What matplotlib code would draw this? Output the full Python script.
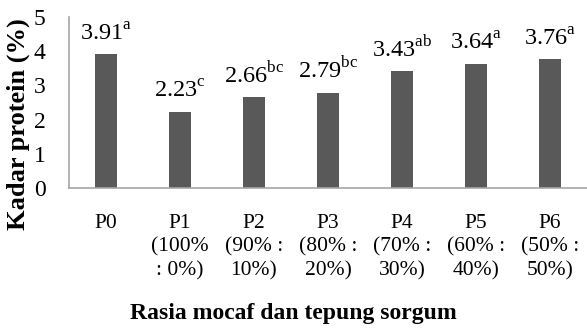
import numpy as np
from matplotlib import pyplot as plt

plt.rcParams['font.family'] = ['Liberation Serif', 'DejaVu Serif']
plt.rcParams['mathtext.fontset'] = 'custom'
plt.rcParams['mathtext.rm'] = 'Liberation Serif'

# data
perlakuan = ["P0", "P1\n(100%\n: 0%)", "P2\n(90% :\n10%)", "P3\n(80% :\n20%)",
             "P4\n(70% :\n30%)", "P5\n(60% :\n40%)", "P6\n(50% :\n50%)"]
protein = [3.91, 2.23, 2.66, 2.79, 3.43, 3.64, 3.76]
notasi = ["a", "c", "bc", "bc", "ab", "a", "a"]

fig = plt.figure(figsize=(5.87, 3.28), dpi=100)
ax = fig.add_axes([69/587, 1 - 188/328, 1 - 69/587, 171/328])

x = np.arange(len(protein))
ax.bar(x, protein, width=0.31, color='#595959')

# value labels with superscript letters
for xi, v, n in zip(x, protein, notasi):
    ax.text(xi, v + 0.26, f"{v:.2f}" + r"$^{\mathrm{" + n + "}}$",
            ha='center', va='bottom', fontsize=17.5)

ax.set_xlim(-0.5, len(protein) - 0.5)
ax.set_ylim(0, 5)
ax.set_yticks(range(6))
ax.set_xticks(x)
ax.set_xticklabels(perlakuan, fontsize=15.5, linespacing=1.3)
ax.tick_params(axis='y', length=0, pad=17, labelsize=17)
ax.tick_params(axis='x', length=0, pad=19)

for s in ['top', 'right']:
    ax.spines[s].set_visible(False)
for s in ['left', 'bottom']:
    ax.spines[s].set_color('#a6a6a6')
    ax.spines[s].set_linewidth(1.2)

fig.text(18/587, 1 - 124/328, "Kadar protein (%)", rotation=90, ha='center',
         va='center', fontsize=19, fontweight='bold')
fig.text(293/587, 1 - 313/328, "Rasia mocaf dan tepung sorgum", ha='center',
         va='center', fontsize=17, fontweight='bold')

plt.savefig("out.png", dpi=100)
